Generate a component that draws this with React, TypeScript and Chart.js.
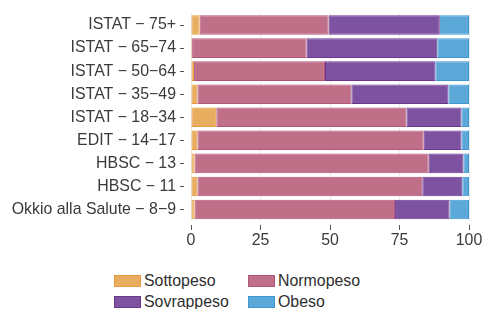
import React, { useEffect, useRef } from "react";
import { Chart, registerables } from "chart.js";
Chart.register(...registerables);

const categories = [
  "ISTAT − 75+",
  "ISTAT − 65−74",
  "ISTAT − 50−64",
  "ISTAT − 35−49",
  "ISTAT − 18−34",
  "EDIT − 14−17",
  "HBSC − 13",
  "HBSC − 11",
  "Okkio alla Salute − 8−9",
];
const seriesNames = ["Sottopeso", "Normopeso", "Sovrappeso", "Obeso"];
const sottopeso = [3.1, 0.4, 1.1, 2.3, 9.1, 2.3, 1.3, 2.3, 1.3];
const normopeso = [46.4, 41.2, 47.1, 55.4, 68.4, 81.4, 84.2, 80.9, 72.1];
const sovrappeso = [40.0, 47.0, 39.7, 34.9, 19.8, 13.6, 12.5, 14.4, 19.6];
const obeso = [10.5, 11.4, 12.1, 7.4, 2.7, 2.7, 2.0, 2.4, 7.0];
const xTicks = [0, 25, 50, 75, 100];

const fills = ["#E9AD5F", "#C06F88", "#7D52A1", "#5CA8D9"];
const borders = ["#E69A3A", "#B3547C", "#6A3690", "#3D97D0"];

const FONT = "'Liberation Sans', Arial, Helvetica, sans-serif";
const FS = 15.9;

export default function App() {
  const ref = useRef<HTMLCanvasElement | null>(null);

  useEffect(() => {
    const values = [sottopeso, normopeso, sovrappeso, obeso];
    const chart = new Chart(ref.current as HTMLCanvasElement, {
      type: "bar",
      data: {
        labels: categories,
        datasets: seriesNames.map((name, i) => ({
          label: name,
          data: values[i],
          backgroundColor: fills[i],
          borderColor: borders[i],
          borderWidth: 1,
          borderSkipped: false,
          categoryPercentage: 1,
          barPercentage: 0.85,
        })),
      },
      options: {
        indexAxis: "y",
        animation: false,
        responsive: false,
        maintainAspectRatio: false,
        layout: { padding: { top: 12, right: 15, left: 0, bottom: 0 } },
        plugins: { legend: { display: false }, tooltip: { enabled: false } },
        scales: {
          x: {
            stacked: true,
            min: 0,
            max: 100,
            afterBuildTicks: (scale: any) => {
              scale.ticks = xTicks.map((v) => ({ value: v }));
            },
            afterFit: (scale: any) => {
              scale.height = 41;
            },
            border: { display: false },
            grid: {
              color: "#EBEBEB",
              lineWidth: 1,
              drawTicks: true,
              tickLength: 10,
              tickColor: "#555555",
              tickBorderDash: [0, 4, 5, 100],
            },
            ticks: {
              color: "#3A3A3A",
              font: { family: FONT, size: FS },
              padding: 0,
              maxRotation: 0,
            },
          },
          y: {
            stacked: true,
            afterFit: (scale: any) => {
              scale.width = 191;
            },
            border: { display: false },
            grid: {
              offset: false,
              drawOnChartArea: false,
              drawTicks: true,
              tickLength: 11,
              tickColor: "#555555",
              tickBorderDash: [4, 100],
            },
            ticks: {
              color: "#3A3A3A",
              font: { family: FONT, size: FS },
              padding: 4,
              autoSkip: false,
            },
          },
        },
      },
    });
    return () => chart.destroy();
  }, []);

  const legendPos = [
    { left: 114, top: 275 },
    { left: 248, top: 275 },
    { left: 114, top: 296 },
    { left: 248, top: 296 },
  ];

  return (
    <div
      style={{
        position: "fixed",
        left: 0,
        top: 0,
        width: 484,
        height: 309,
        background: "#ffffff",
        overflow: "hidden",
      }}
    >
      <canvas ref={ref} width={484} height={262} style={{ position: "absolute", left: 0, top: 0, width: 484, height: 262 }} />
      {seriesNames.map((name, i) => (
        <div
          key={name}
          style={{
            position: "absolute",
            left: legendPos[i].left,
            top: legendPos[i].top,
            height: 12,
            display: "flex",
            alignItems: "center",
            whiteSpace: "nowrap",
          }}
        >
          <div
            style={{
              width: 27,
              height: 12,
              boxSizing: "border-box",
              background: fills[i],
              border: `1px solid ${borders[i]}`,
              flex: "none",
            }}
          />
          <span
            style={{
              marginLeft: 3,
              fontFamily: FONT,
              fontSize: FS,
              color: "#2E2E2E",
              lineHeight: "12px",
            }}
          >
            {name}
          </span>
        </div>
      ))}
    </div>
  );
}
